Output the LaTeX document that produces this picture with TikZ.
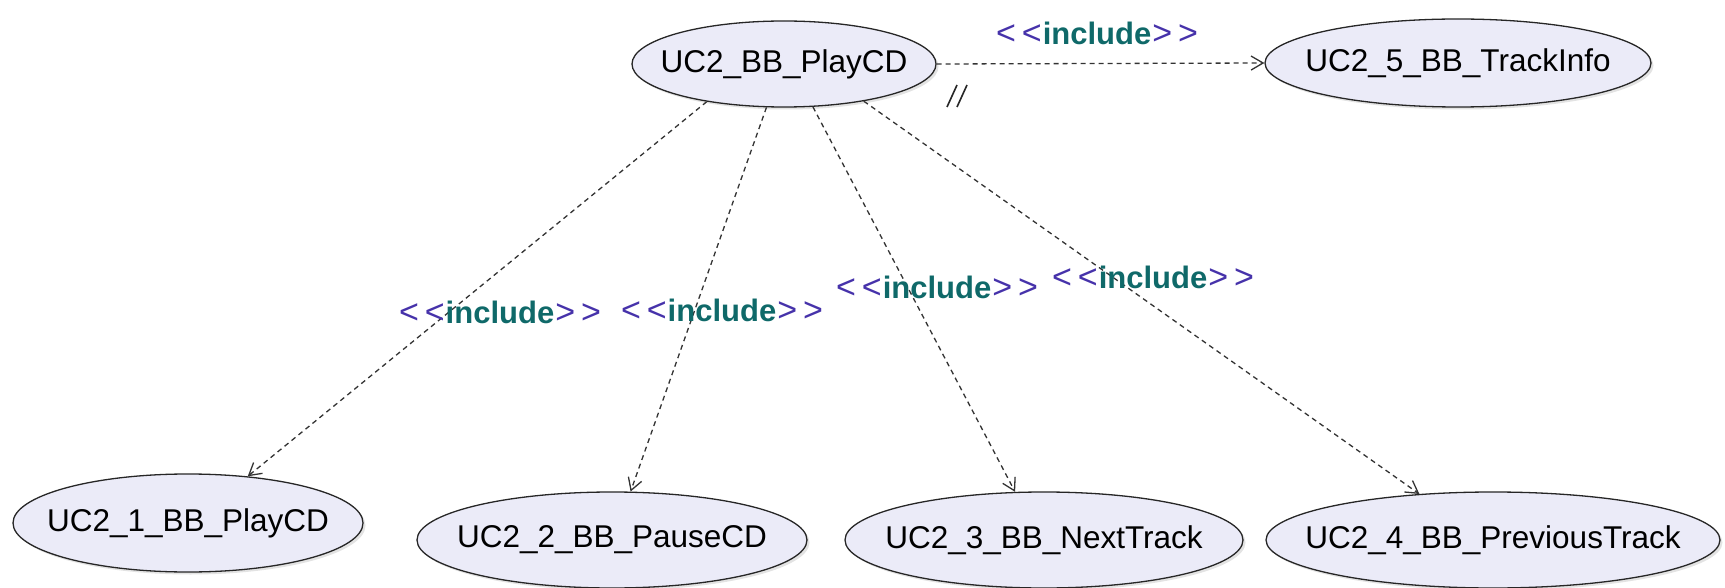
\documentclass[tikz,border=0pt]{standalone}
\usepackage{fontspec}
\setmainfont{Liberation Sans}
\usetikzlibrary{shapes.geometric,arrows.meta,shadows}
\definecolor{ucfill}{RGB}{235,235,248}
\definecolor{incp}{RGB}{70,50,170}
\definecolor{inct}{RGB}{15,105,105}
\newcommand\inclabel{\textcolor{incp}{\fontsize{34}{36}\selectfont<\hspace{6pt}<\hspace{1pt}}\textcolor{inct}{\fontsize{31}{36}\selectfont\bfseries include}\textcolor{incp}{\fontsize{34}{36}\selectfont\hspace{1pt}>\hspace{6pt}>}}
\newcommand\uctext[1]{\makebox[0pt]{#1}}
\tikzset{
  uc/.style={ellipse, draw=black!85, line width=1.3pt, fill=ucfill, inner sep=0pt,
    drop shadow={shadow xshift=2.5pt, shadow yshift=-2.5pt, fill=black!22},
    font=\fontsize{31.5}{36}\selectfont},
  dep/.style={draw=black!80, line width=1.3pt, dash pattern=on 5pt off 4pt,
    -{Straight Barb[length=12pt,width=14pt]}},
  inc/.style={font=\fontsize{29}{34}\selectfont, inner sep=0pt},
  slash/.style={draw=black!85, line width=1.6pt}
}
\begin{document}
\begin{tikzpicture}[x=1pt,y=-1pt]
\useasboundingbox (0,0) rectangle (1725,588);
\node[uc, minimum width=304pt, minimum height=86pt] (play) at (784,64) {\uctext{UC2\_BB\_PlayCD}};
\node[uc, minimum width=386pt, minimum height=88pt] (info) at (1458,63) {\uctext{UC2\_5\_BB\_TrackInfo}};
\node[uc, minimum width=350pt, minimum height=98pt] (u1) at (188,523) {\uctext{UC2\_1\_BB\_PlayCD}};
\node[uc, minimum width=390pt, minimum height=96pt] (u2) at (612,540) {\uctext{UC2\_2\_BB\_PauseCD}};
\node[uc, minimum width=398pt, minimum height=96pt] (u3) at (1044,540) {\uctext{UC2\_3\_BB\_NextTrack}};
\node[uc, minimum width=454pt, minimum height=96pt] (u4) at (1493,540) {\uctext{UC2\_4\_BB\_PreviousTrack}};

\draw[dep] (play.east) -- (info.west);
\draw[dep] (play.206.9) -- (u1.38.5);
\draw[dep] (play.248.3) -- (u2.69.4);
\draw[dep] (play.304.5) -- (u3.121.4);
\draw[dep] (play.335.1) -- (u4.148.5);

\node[inc] (l0) at (1097,33) {\inclabel};
\node[inc] (l1) at (500,312) {\inclabel};
\node[inc] (l2) at (722,310) {\inclabel};
\node[inc] (l3) at (937,287) {\inclabel};
\node[inc] (l4) at (1153,277) {\inclabel};

\draw[slash] (947,107) -- (957,85);
\draw[slash] (957,107) -- (967,85);
\end{tikzpicture}
\end{document}
